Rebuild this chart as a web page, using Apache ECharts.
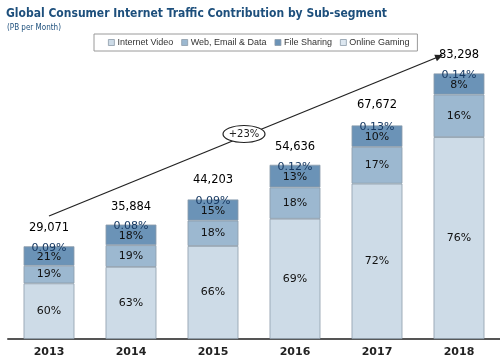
<!DOCTYPE html>
<html><head><meta charset="utf-8">
<script src="https://cdn.jsdelivr.net/npm/echarts@6/dist/echarts.min.js"></script>
<style>html,body{margin:0;padding:0;background:#fff}#c{width:500px;height:359px}</style>
</head><body><div id="c"></div>
<script>
const years = ['2013','2014','2015','2016','2017','2018'];
const totals = [29071, 35884, 44203, 54636, 67672, 83298];
const videoPct = [60, 63, 66, 69, 72, 76];
const webPct = [19, 19, 18, 18, 17, 16];
const filePct = [21, 18, 15, 13, 10, 8];
const gamingPct = [0.09, 0.08, 0.09, 0.12, 0.13, 0.14];
const seriesNames = ['Internet Video', 'Web, Email & Data', 'File Sharing', 'Online Gaming'];
const colors = ['#cddbe7', '#9cb8d0', '#6b93b7', '#dde7f0'];

const pctArrays = [videoPct, webPct, filePct, gamingPct];
const fontFam = '"DejaVu Sans", Verdana, sans-serif';
const condFam = '"DejaVu Sans Condensed", "DejaVu Sans", sans-serif';

const chart = echarts.init(document.getElementById('c'), null, {renderer:'canvas'});

const barSeries = pctArrays.map((p, i) => ({
  name: seriesNames[i],
  type: 'bar',
  stack: 'total',
  barWidth: '62%',
  data: p.map((v, j) => totals[j] * v / 100),
  itemStyle: {color: colors[i], borderColor: '#8d9caa', borderWidth: i === 3 ? 0 : 0.8},
  label: {
    show: true,
    position: 'inside',
    offset: i === 3 ? [0, 2] : (i === 2 ? [0, 1] : [0, 0]),
    fontFamily: fontFam,
    fontSize: 11,
    color: i === 3 ? '#183a63' : '#111',
    textBorderWidth: 0,
    formatter: (prm) => pctArrays[i][prm.dataIndex] + '%'
  },
  emphasis: {disabled: true}
}));

chart.setOption({
  animation: false,
  title: [{
    text: 'Global Consumer Internet Traffic Contribution by Sub-segment',
    left: 1, top: 3,
    textStyle: {fontFamily: condFam, fontSize: 12, fontWeight: 'bold', color: '#1d4f7c'}
  }, {
    text: '(PB per Month)',
    left: 2, top: 19,
    textStyle: {fontFamily: condFam, fontSize: 8, fontWeight: 'normal', color: '#1d4f7c'}
  }],
  legend: {
    data: seriesNames,
    left: 94, top: 34,
    orient: 'horizontal',
    padding: [4, 8, 4, 14],
    borderColor: '#9a9a9a', borderWidth: 1,
    itemWidth: 6, itemHeight: 6, itemGap: 8,
    icon: 'rect',
    itemStyle: {borderColor: '#8d9caa', borderWidth: 0.8},
    textStyle: {fontFamily: '"Liberation Sans", Arial, sans-serif', fontSize: 9, color: '#333', padding: [0,0,0,-2]}
  },
  grid: {left: 8, right: -8, top: 52, bottom: 20},
  xAxis: {
    type: 'category', data: years,
    axisLine: {lineStyle: {color: '#555', width: 2}},
    axisTick: {show: false},
    axisLabel: {fontFamily: fontFam, fontSize: 11, fontWeight: 'bold', color: '#222', margin: 8}
  },
  yAxis: {type: 'value', min: 0, max: 90000, show: false, splitLine: {show: false}},
  series: [...barSeries, {
    type: 'scatter',
    data: totals,
    symbolSize: 0,
    silent: true,
    itemStyle: {opacity: 1},
    label: {
      show: true, position: 'top', distance: 12,
      fontFamily: fontFam, fontSize: 11.5, color: '#000',
      formatter: (prm) => prm.value.toLocaleString('en-US')
    }
  }],
  graphic: [
    {type: 'line', shape: {x1: 49, y1: 216, x2: 438, y2: 57}, style: {stroke: '#222', lineWidth: 1.3}, z: 10},
    {type: 'polygon', shape: {points: [[443, 55], [436.9, 61.2], [434.3, 54.8]]}, style: {fill: '#222'}, z: 10},
    {type: 'ellipse', shape: {cx: 244, cy: 134, rx: 21, ry: 8.5}, style: {fill: '#fff', stroke: '#222', lineWidth: 1.2}, z: 11},
    {type: 'text', x: 244, y: 134, style: {text: '+23%', fontFamily: fontFam, fontSize: 10, fill: '#222', align: 'center', verticalAlign: 'middle'}, z: 12}
  ]
});
</script></body></html>
